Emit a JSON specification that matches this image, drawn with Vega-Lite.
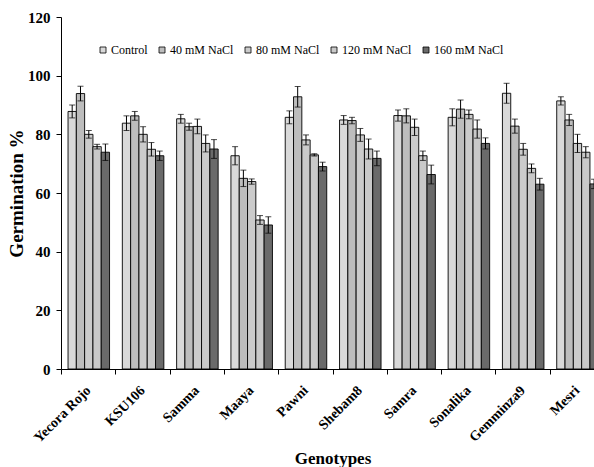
{
  "$schema": "https://vega.github.io/schema/vega-lite/v6.json",
  "autosize": {"type": "none"},
  "padding": {"left": 61, "top": 17, "right": 0, "bottom": 98},
  "width": 533,
  "height": 352,
  "background": "white",
  "config": {
    "view": {"stroke": null},
    "font": "Liberation Serif"
  },
  "data": {
    "values": [
      {"g": "Yecora Rojo", "s": "Control", "v": 87.8, "lo": 85.6, "hi": 90.0},
      {"g": "Yecora Rojo", "s": "40 mM NaCl", "v": 93.9, "lo": 91.4, "hi": 96.4},
      {"g": "Yecora Rojo", "s": "80 mM NaCl", "v": 80.0, "lo": 78.7, "hi": 81.3},
      {"g": "Yecora Rojo", "s": "120 mM NaCl", "v": 75.8, "lo": 75.0, "hi": 76.6},
      {"g": "Yecora Rojo", "s": "160 mM NaCl", "v": 73.9, "lo": 71.1, "hi": 76.7},
      {"g": "KSU106", "s": "Control", "v": 83.8, "lo": 81.3, "hi": 86.3},
      {"g": "KSU106", "s": "40 mM NaCl", "v": 86.3, "lo": 84.8, "hi": 87.8},
      {"g": "KSU106", "s": "80 mM NaCl", "v": 80.0, "lo": 77.4, "hi": 82.6},
      {"g": "KSU106", "s": "120 mM NaCl", "v": 74.9, "lo": 72.6, "hi": 77.2},
      {"g": "KSU106", "s": "160 mM NaCl", "v": 72.7, "lo": 71.1, "hi": 74.3},
      {"g": "Samma", "s": "Control", "v": 85.3, "lo": 83.8, "hi": 86.8},
      {"g": "Samma", "s": "40 mM NaCl", "v": 82.6, "lo": 81.4, "hi": 83.8},
      {"g": "Samma", "s": "80 mM NaCl", "v": 82.7, "lo": 80.2, "hi": 85.2},
      {"g": "Samma", "s": "120 mM NaCl", "v": 76.9, "lo": 74.0, "hi": 79.8},
      {"g": "Samma", "s": "160 mM NaCl", "v": 75.0, "lo": 71.8, "hi": 78.2},
      {"g": "Maaya", "s": "Control", "v": 72.7, "lo": 69.6, "hi": 75.8},
      {"g": "Maaya", "s": "40 mM NaCl", "v": 65.0, "lo": 62.2, "hi": 67.8},
      {"g": "Maaya", "s": "80 mM NaCl", "v": 63.9, "lo": 63.0, "hi": 64.8},
      {"g": "Maaya", "s": "120 mM NaCl", "v": 50.8, "lo": 49.3, "hi": 52.3},
      {"g": "Maaya", "s": "160 mM NaCl", "v": 49.1, "lo": 46.3, "hi": 51.9},
      {"g": "Pawni", "s": "Control", "v": 85.8, "lo": 83.6, "hi": 88.0},
      {"g": "Pawni", "s": "40 mM NaCl", "v": 92.8, "lo": 89.3, "hi": 96.3},
      {"g": "Pawni", "s": "80 mM NaCl", "v": 78.1, "lo": 76.4, "hi": 79.8},
      {"g": "Pawni", "s": "120 mM NaCl", "v": 73.0, "lo": 72.6, "hi": 73.4},
      {"g": "Pawni", "s": "160 mM NaCl", "v": 69.0, "lo": 67.5, "hi": 70.5},
      {"g": "Shebam8", "s": "Control", "v": 84.9, "lo": 83.4, "hi": 86.4},
      {"g": "Shebam8", "s": "40 mM NaCl", "v": 84.7, "lo": 83.6, "hi": 85.8},
      {"g": "Shebam8", "s": "80 mM NaCl", "v": 79.8, "lo": 77.6, "hi": 82.0},
      {"g": "Shebam8", "s": "120 mM NaCl", "v": 75.0, "lo": 71.6, "hi": 78.4},
      {"g": "Shebam8", "s": "160 mM NaCl", "v": 71.8, "lo": 69.3, "hi": 74.3},
      {"g": "Samra", "s": "Control", "v": 86.4, "lo": 84.5, "hi": 88.3},
      {"g": "Samra", "s": "40 mM NaCl", "v": 86.3, "lo": 83.9, "hi": 88.7},
      {"g": "Samra", "s": "80 mM NaCl", "v": 82.4, "lo": 79.6, "hi": 85.2},
      {"g": "Samra", "s": "120 mM NaCl", "v": 72.7, "lo": 71.1, "hi": 74.3},
      {"g": "Samra", "s": "160 mM NaCl", "v": 66.3, "lo": 63.1, "hi": 69.5},
      {"g": "Sonalika", "s": "Control", "v": 85.8, "lo": 82.9, "hi": 88.7},
      {"g": "Sonalika", "s": "40 mM NaCl", "v": 88.6, "lo": 85.5, "hi": 91.7},
      {"g": "Sonalika", "s": "80 mM NaCl", "v": 86.8, "lo": 85.3, "hi": 88.3},
      {"g": "Sonalika", "s": "120 mM NaCl", "v": 81.8, "lo": 78.7, "hi": 84.9},
      {"g": "Sonalika", "s": "160 mM NaCl", "v": 76.9, "lo": 75.0, "hi": 78.8},
      {"g": "Gemminza9", "s": "Control", "v": 94.0, "lo": 90.6, "hi": 97.4},
      {"g": "Gemminza9", "s": "40 mM NaCl", "v": 82.8, "lo": 80.4, "hi": 85.2},
      {"g": "Gemminza9", "s": "80 mM NaCl", "v": 74.9, "lo": 72.9, "hi": 76.9},
      {"g": "Gemminza9", "s": "120 mM NaCl", "v": 68.4, "lo": 66.9, "hi": 69.9},
      {"g": "Gemminza9", "s": "160 mM NaCl", "v": 63.0, "lo": 61.0, "hi": 65.0},
      {"g": "Mesri", "s": "Control", "v": 91.4, "lo": 90.0, "hi": 92.8},
      {"g": "Mesri", "s": "40 mM NaCl", "v": 84.9, "lo": 83.0, "hi": 86.8},
      {"g": "Mesri", "s": "80 mM NaCl", "v": 76.9, "lo": 73.8, "hi": 80.0},
      {"g": "Mesri", "s": "120 mM NaCl", "v": 73.9, "lo": 72.0, "hi": 75.8},
      {"g": "Mesri", "s": "160 mM NaCl", "v": 63.1, "lo": 61.5, "hi": 64.7}
    ]
  },
  "encoding": {
    "x": {
      "field": "g",
      "type": "nominal",
      "sort": null,
      "scale": {"range": [0, 543], "paddingInner": 0, "paddingOuter": 0},
      "axis": {
        "title": "Genotypes",
        "titleFont": "Liberation Serif",
        "titleFontSize": 17,
        "titleFontWeight": "bold",
        "titleColor": "black",
        "titleY": 81,
        "titleBaseline": "top",
        "labelAngle": -45,
        "labelAlign": "right",
        "labelBaseline": "middle",
        "labelFont": "Liberation Serif",
        "labelFontSize": 14,
        "labelFontWeight": "bold",
        "labelColor": "black",
        "labelPadding": 14,
        "tickBand": "extent",
        "tickSize": 5,
        "tickColor": "black",
        "domainColor": "black",
        "domainWidth": 1,
        "grid": false
      }
    },
    "xOffset": {
      "field": "s",
      "type": "nominal",
      "scale": {"domain": ["Control", "40 mM NaCl", "80 mM NaCl", "120 mM NaCl", "160 mM NaCl"], "paddingInner": 0, "paddingOuter": 0.77, "align": 0.55}
    }
  },
  "layer": [
    {
      "mark": {"type": "bar", "stroke": "black", "strokeWidth": 0.9},
      "encoding": {
        "y": {
          "field": "v",
          "type": "quantitative",
          "scale": {"domain": [0, 120], "nice": false},
          "axis": {
            "title": "Germination   %",
            "titleFont": "Liberation Serif",
            "titleFontSize": 19,
            "titleFontWeight": "bold",
            "titleColor": "black",
            "titlePadding": 1,
            "values": [0, 20, 40, 60, 80, 100, 120],
            "labelFont": "Liberation Serif",
            "labelFontSize": 15,
            "labelFontWeight": "bold",
            "labelColor": "black",
            "labelPadding": 6,
            "tickSize": 5,
            "tickColor": "black",
            "domainColor": "black",
            "grid": false
          }
        },
        "color": {
          "field": "s",
          "type": "nominal",
          "scale": {
            "domain": ["Control", "40 mM NaCl", "80 mM NaCl", "120 mM NaCl", "160 mM NaCl"],
            "range": ["#d9d9d9", "#bdbdbd", "#cbcbcb", "#c9c9c9", "#6a6a6a"]
          },
          "legend": {
            "title": null,
            "orient": "none",
            "legendX": 36,
            "legendY": 27,
            "direction": "horizontal",
            "columns": 5,
            "columnPadding": 8,
            "symbolType": "square",
            "symbolSize": 36,
            "symbolStrokeColor": "black",
            "symbolStrokeWidth": 0.8,
            "symbolOpacity": 1,
            "labelFont": "Liberation Serif",
            "labelFontSize": 12,
            "labelColor": "black",
            "labelOffset": 2
          }
        }
      }
    },
    {
      "mark": {"type": "rule", "color": "black", "strokeWidth": 1},
      "encoding": {
        "y": {"field": "lo", "type": "quantitative"},
        "y2": {"field": "hi"}
      }
    },
    {
      "mark": {"type": "tick", "color": "black", "thickness": 1, "size": 6},
      "encoding": {
        "y": {"field": "hi", "type": "quantitative"}
      }
    },
    {
      "mark": {"type": "tick", "color": "black", "thickness": 1, "size": 6},
      "encoding": {
        "y": {"field": "lo", "type": "quantitative"}
      }
    }
  ]
}
